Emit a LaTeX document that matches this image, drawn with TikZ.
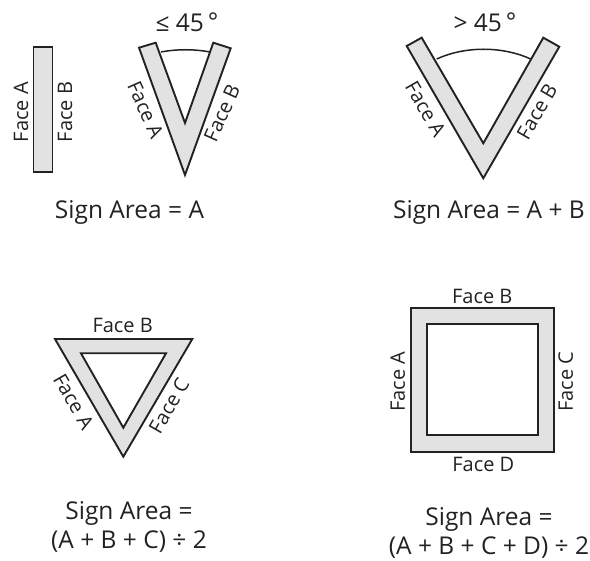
\documentclass[tikz,border=0pt]{standalone}
\usepackage{fontspec}
\setmainfont{Open Sans}
\usepackage{xcolor}
\usetikzlibrary{positioning}
\definecolor{signgray}{HTML}{E2E2E2}
\definecolor{signink}{HTML}{222222}
\tikzset{
  facelbl/.style={font=\fontsize{20}{24}\selectfont,text=signink,inner sep=0pt},
  arealbl/.style={font=\fontsize{24.5}{29}\selectfont,text=signink,inner sep=0pt,align=center},
  signface/.style={draw=signink,line width=1.9pt,fill=signgray,miter limit=10},
  anglearc/.style={draw=signink,line width=1.5pt}
}
\begin{document}
\begin{tikzpicture}[x=1pt,y=-1pt]
\useasboundingbox (0,0) rectangle (590,561);
% flat sign
\draw[signface] (33.5,47) rectangle (52.5,172);
\node[facelbl,rotate=90] (flatA) at (21,112){Face A};
\node[facelbl,rotate=90] (flatB) at (65,112){Face B};
\node[arealbl] (flatarea) at (129.5,212){Sign Area = A};
% narrow V
\draw[signface] (139,47.7)--(155.7,42.7)--(185,123)--(213.3,42.7)--(230.7,48.3)--(185,175)--cycle;
\coordinate (narrowL) at (161,52);
\coordinate (narrowR) at (210,52);
\draw[anglearc] (narrowL) .. controls (177,49) and (194,49) .. (narrowR);
\node[arealbl] (narrowangle) at (187,22){≤ 45\,\raisebox{0.1ex}{°}};
\node[facelbl,rotate=-66] (narrowA) at (145.5,110){Face A};
\node[facelbl,rotate=66] (narrowB) at (222,113){Face B};
% wide V
\draw[signface] (406.7,46)--(421.7,37.7)--(483.3,143.3)--(543.3,37.7)--(559.3,46.7)--(483.3,178.3)--cycle;
\coordinate (wideL) at (436.7,59);
\coordinate (wideR) at (530.7,59);
\draw[anglearc] (wideL) .. controls (465,46) and (502,46) .. (wideR);
\node[arealbl] (wideangle) at (485,22){> 45\,\raisebox{0.1ex}{°}};
\node[facelbl,rotate=-60] (wideA) at (425.5,109){Face A};
\node[facelbl,rotate=60] (wideB) at (537,111.5){Face B};
\node[arealbl] (widearea) at (489,212){Sign Area = A + B};
% triangle
\draw[signface,even odd rule] (55,339)--(192.3,339)--(123.3,456.7)--cycle (81,353.3)--(166,353.3)--(123.3,427.7)--cycle;
\node[facelbl] (triB) at (122.7,325.7){Face B};
\node[facelbl,rotate=-60] (triA) at (73.5,401.5){Face A};
\node[facelbl,rotate=60] (triC) at (169,405.5){Face C};
\node[arealbl] (triarea) at (129,526.5){Sign Area =\\(A + B + C) ÷ 2};
% square
\draw[signface,even odd rule] (410.7,308.3) rectangle (554,452) (426.7,324.3) rectangle (537.7,435.3);
\node[facelbl] (squareB) at (482.3,296){Face B};
\node[facelbl] (squareD) at (483.3,464){Face D};
\node[facelbl,rotate=90] (squareA) at (397.7,381.7){Face A};
\node[facelbl,rotate=90] (squareC) at (565.7,381.7){Face C};
\node[arealbl] (squarearea) at (489,533){Sign Area =\\(A + B + C + D) ÷ 2};
\end{tikzpicture}
\end{document}
